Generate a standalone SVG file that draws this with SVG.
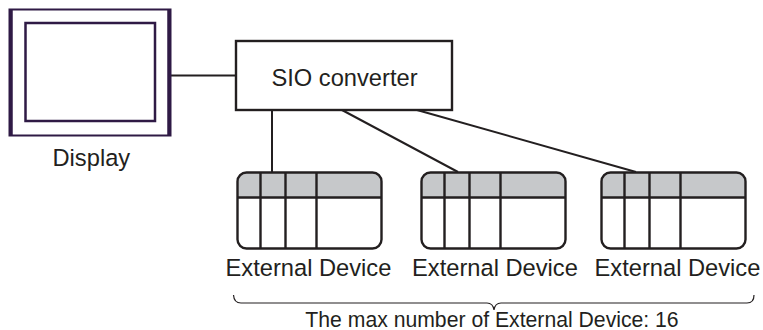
<svg xmlns="http://www.w3.org/2000/svg" width="763" height="330" viewBox="0 0 763 330">
<defs>
<style>
text{font-family:"Liberation Sans",Arial,sans-serif;font-size:23.700px;fill:#231f20}
.c{fill:none;stroke:#231f20;stroke-width:2}
.g{fill:#c6c8ca}
.b{fill:none;stroke:#231f20;stroke-width:2.400}
</style>
<g id="dev">
<path class="g" d="M0 25V9Q0 0 9 0H135Q144 0 144 9V25Z"/>
<rect class="b" width="144" height="76" rx="9"/>
<path class="b" d="M0 25H144M23 0V76M48 0V76M79 0V76"/>
</g>
</defs>
<rect width="763" height="330" fill="#fff"/>
<g id="connectors">
<path class="c" d="M171 75.500H236M272 110V172M342 110L458 172M417 110L636 172"/>
</g>
<g id="display">
<rect x="9.500" y="9.500" width="161" height="126" fill="#fff" stroke="#2f1a45" stroke-width="2"/>
<path d="M11 9.500V135.500M169 9.500V135.500" stroke="#2f1a45" stroke-width="3.500" fill="none"/>
<rect x="25.500" y="23" width="129.500" height="98" fill="none" stroke="#2f1a45" stroke-width="2.500"/>
<text x="52.500" y="166">Display</text>
</g>
<g id="sio">
<rect x="236" y="41" width="216" height="69" fill="#fff" stroke="#231f20" stroke-width="2.400"/>
<text x="344.500" y="86" text-anchor="middle">SIO converter</text>
</g>
<g id="device1"><use href="#dev" x="237.500" y="172.500"/><text x="225.500" y="276">External Device</text></g>
<g id="device2"><use href="#dev" x="421.500" y="172.500"/><text x="412" y="276">External Device</text></g>
<g id="device3"><use href="#dev" x="601.500" y="172.500"/><text x="594.500" y="276">External Device</text></g>
<g id="brace">
<path d="M233.500 295Q234 303 241 303H487Q493 303 494 310Q495 303 501 303H747Q754 303 754 295" fill="none" stroke="#231f20" stroke-width="1.200"/>
<text x="492" y="327" text-anchor="middle" style="font-size:21.200px">The max number of External Device: 16</text>
</g>
</svg>
